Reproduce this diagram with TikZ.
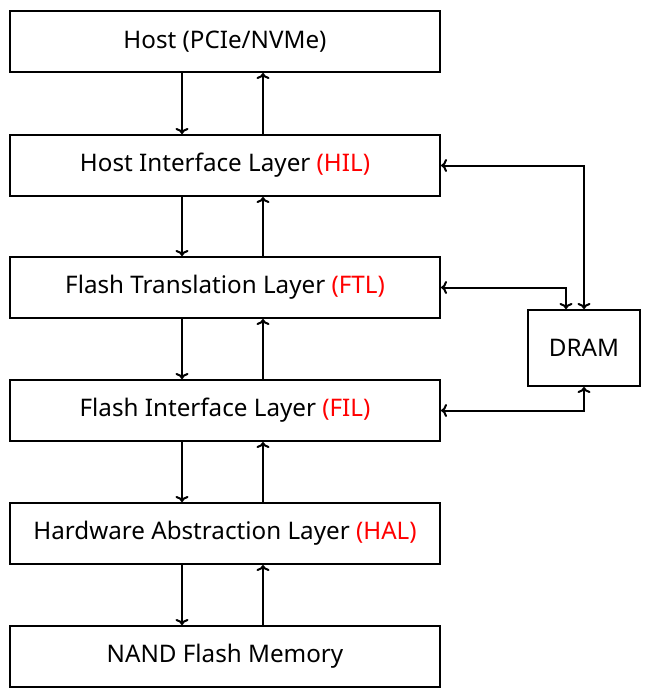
\documentclass[tikz,border=0pt]{standalone}
\usepackage{fontspec}
\setmainfont{Noto Sans}
\usetikzlibrary{arrows.meta,calc}
\begin{document}
\begin{tikzpicture}[x=1pt,y=-1pt,
  layer/.style={draw,line width=2pt,minimum width=430pt,minimum height=61pt,anchor=north west,inner sep=0pt,font=\fontsize{24.2}{27}\selectfont},
  dram/.style={draw,line width=2pt,minimum width=112pt,minimum height=76pt,anchor=north west,inner sep=0pt,font=\fontsize{24.2}{27}\selectfont},
  conn/.style={line width=2pt,-{To[length=6pt,width=13pt]}},
  conn2/.style={line width=2pt,{To[length=6pt,width=13pt]}-{To[length=6pt,width=13pt]}}]
\useasboundingbox (0,0) rectangle (646,696);
\definecolor{hl}{RGB}{255,0,0}
\node[layer] (host) at (9,10) {Host (PCIe/NVMe)};
\node[layer] (hil) at (9,134) {Host Interface Layer \textcolor{hl}{(HIL)}};
\node[layer] (ftl) at (9,256) {Flash Translation Layer \textcolor{hl}{(FTL)}};
\node[layer] (fil) at (9,379) {Flash Interface Layer \textcolor{hl}{(FIL)}};
\node[layer] (hal) at (9,502) {Hardware Abstraction Layer \textcolor{hl}{(HAL)}};
\node[layer] (nand) at (9,625) {NAND Flash Memory};
\node[dram] (dram) at (527,309) {DRAM};
\foreach \a/\b in {host/hil,hil/ftl,ftl/fil,fil/hal,hal/nand}{
  \draw[conn] ($(\a.south west)+(173,0)$) -- ($(\b.north west)+(173,0)$);
  \draw[conn] ($(\b.north west)+(254,0)$) -- ($(\a.south west)+(254,0)$);
}
\draw[conn2] (hil.east) -| (dram.north);
\draw[conn2] (ftl.east) -| ($(dram.north)+(-18,0)$);
\draw[conn2] (fil.east) -| (dram.south);
\end{tikzpicture}
\end{document}
